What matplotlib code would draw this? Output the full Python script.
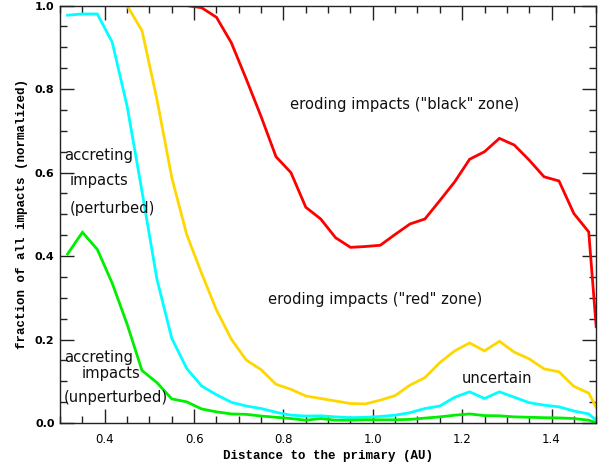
import matplotlib
matplotlib.use("Agg")
import matplotlib.pyplot as plt
from matplotlib.ticker import MultipleLocator

# Bin centres (AU) plus the outer edge of the grid
distance = [0.3167, 0.3500, 0.3833, 0.4167, 0.4500, 0.4833, 0.5167, 0.5500,
            0.5833, 0.6167, 0.6500, 0.6833, 0.7167, 0.7500, 0.7833, 0.8167,
            0.8500, 0.8833, 0.9167, 0.9500, 0.9833, 1.0167, 1.0500, 1.0833,
            1.1167, 1.1500, 1.1833, 1.2167, 1.2500, 1.2833, 1.3167, 1.3500,
            1.3833, 1.4167, 1.4500, 1.4833, 1.5000]

# Cumulative fractions of impacts (normalized)
eroding_black = [1.000, 1.000, 1.000, 1.000, 1.000, 1.000, 1.000, 1.000,
                 1.000, 0.995, 0.972, 0.911, 0.824, 0.734, 0.638, 0.600,
                 0.517, 0.489, 0.444, 0.421, 0.423, 0.426, 0.452, 0.477,
                 0.489, 0.533, 0.578, 0.632, 0.650, 0.682, 0.666, 0.630,
                 0.590, 0.580, 0.502, 0.458, 0.231]

eroding_red = [1.000, 1.000, 1.000, 1.000, 1.000, 0.940, 0.776, 0.588,
               0.452, 0.359, 0.271, 0.201, 0.151, 0.128, 0.093, 0.081,
               0.065, 0.059, 0.053, 0.047, 0.046, 0.055, 0.066, 0.091,
               0.109, 0.145, 0.173, 0.192, 0.173, 0.196, 0.170, 0.154,
               0.130, 0.123, 0.088, 0.072, 0.038]

accreting_perturbed = [0.977, 0.980, 0.980, 0.912, 0.759, 0.555, 0.345, 0.203,
                       0.131, 0.089, 0.068, 0.050, 0.041, 0.035, 0.026, 0.019,
                       0.017, 0.0175, 0.015, 0.013, 0.014, 0.016, 0.019, 0.025,
                       0.035, 0.041, 0.062, 0.075, 0.059, 0.075, 0.062, 0.049,
                       0.043, 0.039, 0.029, 0.022, 0.007]

accreting_unperturbed = [0.405, 0.457, 0.416, 0.335, 0.237, 0.126, 0.097, 0.058,
                         0.051, 0.034, 0.027, 0.022, 0.021, 0.017, 0.014, 0.011,
                         0.007, 0.011, 0.007, 0.007, 0.008, 0.008, 0.008, 0.009,
                         0.012, 0.015, 0.019, 0.022, 0.018, 0.0175, 0.015, 0.014,
                         0.013, 0.0125, 0.011, 0.007, 0.001]

fig = plt.figure(figsize=(6.01, 4.66), dpi=100)
ax = fig.add_axes([0.1, 0.092, 0.892, 0.896])

lw = 2.0
ax.plot(distance, eroding_black, color="#ff0000", lw=lw, solid_joinstyle="miter")
ax.plot(distance, eroding_red, color="#ffd700", lw=lw, solid_joinstyle="miter")
ax.plot(distance, accreting_perturbed, color="#00ffff", lw=lw, solid_joinstyle="miter")
ax.plot(distance, accreting_unperturbed, color="#00ee00", lw=lw, solid_joinstyle="miter")

ax.set_xlim(0.3, 1.5)
ax.set_ylim(0.0, 1.0)

ax.xaxis.set_major_locator(MultipleLocator(0.2))
ax.xaxis.set_minor_locator(MultipleLocator(0.05))
ax.yaxis.set_major_locator(MultipleLocator(0.2))
ax.yaxis.set_minor_locator(MultipleLocator(0.05))
ax.tick_params(which="both", direction="in", top=True, right=True,
               color="#222222", width=1.0)
ax.tick_params(which="major", length=10)
ax.tick_params(which="minor", length=5)
ax.tick_params(axis="x", labelsize=8.5, pad=7)
ax.tick_params(axis="y", labelsize=8, pad=4)
for lab in ax.get_yticklabels():
    lab.set_fontweight("bold")

for sp in ax.spines.values():
    sp.set_linewidth(1.0)
    sp.set_color("#222222")

label_font = dict(family="Liberation Mono", fontweight="bold", fontsize=9)
ax.set_xlabel("Distance to the primary (AU)", labelpad=3, **label_font)
ax.set_ylabel("fraction of all impacts (normalized)", labelpad=5, **label_font)

note = dict(fontsize=10.6, fontweight="normal", color="#111111",
            ha="left", va="center")
ax.text(0.815, 0.764, 'eroding impacts ("black" zone)', **note)
ax.text(0.766, 0.295, 'eroding impacts ("red" zone)', **note)
ax.text(1.198, 0.108, "uncertain", **note)
ax.text(0.309, 0.642, "accreting", **note)
ax.text(0.322, 0.582, "impacts", **note)
ax.text(0.322, 0.514, "(perturbed)", **note)
ax.text(0.308, 0.158, "accreting", **note)
ax.text(0.349, 0.118, "impacts", **note)
ax.text(0.309, 0.062, "(unperturbed)", **note)

fig.savefig("out.png", dpi=100)
